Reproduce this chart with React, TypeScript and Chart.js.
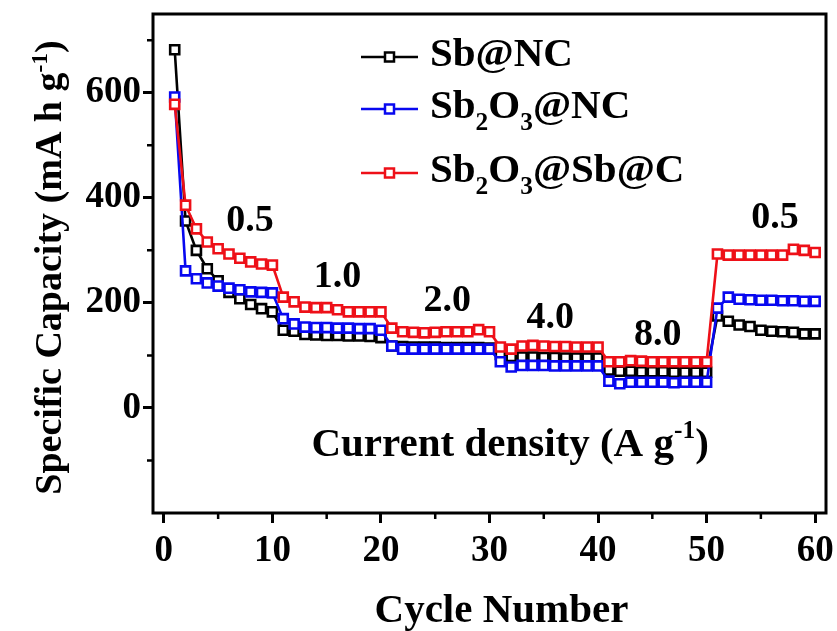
import React, { useEffect, useRef } from 'react';
import { Chart, registerables } from 'chart.js';

Chart.register(...registerables);

const FONT = '"Liberation Serif", "Times New Roman", Times, serif';

const cycleNumbers = [
  1, 2, 3, 4, 5, 6, 7, 8, 9, 10,
  11, 12, 13, 14, 15, 16, 17, 18, 19, 20,
  21, 22, 23, 24, 25, 26, 27, 28, 29, 30,
  31, 32, 33, 34, 35, 36, 37, 38, 39, 40,
  41, 42, 43, 44, 45, 46, 47, 48, 49, 50,
  51, 52, 53, 54, 55, 56, 57, 58, 59, 60,
];

const sbNC = [
  682, 356, 300, 265, 242, 220, 208, 197, 189, 183,
  148, 146, 140, 139, 138, 138, 137, 137, 136, 134,
  118, 117, 116, 116, 116, 115, 115, 115, 115, 114,
  102, 98, 97, 97, 96, 96, 95, 95, 95, 95,
  72, 70, 70, 69, 69, 69, 68, 68, 68, 68,
  175, 165, 158, 155, 148, 146, 145, 144, 141, 141,
];

const sb2o3NC = [
  592, 261, 246, 238, 232, 228, 225, 221, 220, 219,
  170, 160, 154, 153, 153, 152, 152, 151, 151, 148,
  118, 112, 112, 112, 112, 112, 112, 112, 112, 112,
  88, 78, 81, 81, 81, 80, 80, 80, 80, 80,
  51, 46, 49, 49, 49, 49, 48, 49, 49, 49,
  190, 211, 207, 206, 205, 205, 204, 204, 203, 203,
];

const sb2o3SbC = [
  578, 386, 341, 316, 303, 293, 285, 278, 274, 272,
  211, 202, 192, 191, 191, 187, 183, 183, 183, 183,
  152, 145, 144, 143, 144, 145, 145, 145, 149, 145,
  116, 112, 118, 119, 118, 117, 117, 116, 116, 116,
  88, 88, 90, 89, 88, 88, 88, 88, 88, 88,
  293, 291, 291, 291, 291, 291, 291, 302, 300, 296,
];

const seriesNames = ['Sb@NC', 'Sb_{2}O_{3}@NC', 'Sb_{2}O_{3}@Sb@C'];
const seriesColors = ['#000000', '#0808f0', '#ee1018'];

const xMajorTicks = [0, 10, 20, 30, 40, 50, 60];
const yMajorTicks = [0, 200, 400, 600];

const rateLabels = ['0.5', '1.0', '2.0', '4.0', '8.0', '0.5'];
const rateLabelX = [7.93, 16.0, 26.1, 35.6, 45.5, 56.3];
const rateLabelY = [356, 249, 204, 171, 139, 362];

const densityLabel = 'Current density (A g^{-1})';
const densityX = 31.9;
const densityY = -72;

const xTitle = 'Cycle Number';
const yTitle = 'Specific Capacity (mA h g^{-1})';

type Part = { t: string; mode: number };

function parseRich(s: string): Part[] {
  const parts: Part[] = [];
  const re = /([_^])\{([^}]*)\}/g;
  let last = 0;
  let m: RegExpExecArray | null;
  while ((m = re.exec(s))) {
    if (m.index > last) parts.push({ t: s.slice(last, m.index), mode: 0 });
    parts.push({ t: m[2], mode: m[1] === '_' ? 1 : 2 });
    last = re.lastIndex;
  }
  if (last < s.length) parts.push({ t: s.slice(last), mode: 0 });
  return parts;
}

function drawRich(
  ctx: CanvasRenderingContext2D,
  s: string,
  x: number,
  y: number,
  size: number,
  align: 'left' | 'center',
  baseline: CanvasTextBaseline = 'alphabetic'
) {
  const parts = parseRich(s);
  const small = size * 0.62;
  const fontFor = (mode: number) => `bold ${mode ? small : size}px ${FONT}`;
  ctx.save();
  ctx.textBaseline = baseline;
  ctx.textAlign = 'left';
  let total = 0;
  const widths = parts.map((p) => {
    ctx.font = fontFor(p.mode);
    const w = ctx.measureText(p.t).width;
    total += w;
    return w;
  });
  let cx = align === 'center' ? x - total / 2 : x;
  parts.forEach((p, i) => {
    ctx.font = fontFor(p.mode);
    let dy = 0;
    if (p.mode === 1) dy = size * 0.3;
    if (p.mode === 2) dy = -size * 0.36;
    ctx.fillText(p.t, cx, y + dy);
    cx += widths[i];
  });
  ctx.restore();
}

const decorPlugin = {
  id: 'decor',
  afterDraw(chart: any) {
    const ctx: CanvasRenderingContext2D = chart.ctx;
    const { left, right, top, bottom } = chart.chartArea;
    const xs = chart.scales.x;
    const ys = chart.scales.y;
    ctx.save();
    // frame
    ctx.strokeStyle = '#000';
    ctx.lineWidth = 3;
    ctx.strokeRect(left, top, right - left, bottom - top);
    // minor ticks
    ctx.lineWidth = 2.5;
    ctx.beginPath();
    xs.ticks.forEach((t: any) => {
      if (!xMajorTicks.includes(t.value)) {
        const px = xs.getPixelForValue(t.value);
        ctx.moveTo(px, bottom);
        ctx.lineTo(px, bottom + 6);
      }
    });
    ys.ticks.forEach((t: any) => {
      if (t.value % 200 !== 0) {
        const py = ys.getPixelForValue(t.value);
        ctx.moveTo(left, py);
        ctx.lineTo(left - 6, py);
      }
    });
    ctx.stroke();

    ctx.fillStyle = '#000';
    // rate annotations
    rateLabels.forEach((lab, i) => {
      drawRich(ctx, lab, xs.getPixelForValue(rateLabelX[i]), ys.getPixelForValue(rateLabelY[i]), 38, 'center', 'middle');
    });
    drawRich(ctx, densityLabel, xs.getPixelForValue(densityX), ys.getPixelForValue(densityY), 41, 'center', 'middle');

    // axis titles
    drawRich(ctx, xTitle, (left + right) / 2 + 12, 622, 41, 'center');
    ctx.save();
    ctx.translate(61, (top + bottom) / 2 + 4);
    ctx.rotate(-Math.PI / 2);
    drawRich(ctx, yTitle, 0, 0, 38, 'center');
    ctx.restore();

    // legend
    const rows = [57, 109, 173];
    seriesNames.forEach((name, i) => {
      const ry = rows[i];
      ctx.strokeStyle = seriesColors[i];
      ctx.lineWidth = 2.5;
      ctx.beginPath();
      ctx.moveTo(361, ry);
      ctx.lineTo(418, ry);
      ctx.stroke();
      ctx.fillStyle = '#fff';
      ctx.fillRect(385, ry - 4.5, 9, 9);
      ctx.strokeRect(385, ry - 4.5, 9, 9);
      ctx.fillStyle = '#000';
      drawRich(ctx, name, 430, ry + 9, 41, 'left');
    });
    ctx.restore();
  },
};

export default function App() {
  const ref = useRef<HTMLCanvasElement>(null);

  useEffect(() => {
    if (!ref.current) return;
    const mk = (idx: number, data: number[], order: number) => ({
      label: seriesNames[idx].replace(/[_^]\{([^}]*)\}/g, '$1'),
      data: cycleNumbers.map((c, i) => ({ x: c, y: data[i] })),
      borderColor: seriesColors[idx],
      backgroundColor: '#ffffff',
      pointBackgroundColor: '#ffffff',
      pointBorderColor: seriesColors[idx],
      pointStyle: 'rect' as const,
      pointRadius: 6.4,
      pointBorderWidth: 2.6,
      borderWidth: 2.6,
      tension: 0,
      order,
    });
    const chart = new Chart(ref.current, {
      type: 'line',
      data: {
        datasets: [mk(0, sbNC, 3), mk(1, sb2o3NC, 2), mk(2, sb2o3SbC, 1)],
      },
      options: {
        responsive: false,
        animation: false,
        devicePixelRatio: 1,
        layout: { padding: { left: 0, right: 11, top: 14, bottom: 0 } },
        plugins: { legend: { display: false }, tooltip: { enabled: false } },
        scales: {
          x: {
            type: 'linear',
            min: -1,
            max: 61,
            border: { display: false },
            grid: {
              drawOnChartArea: false,
              drawTicks: true,
              tickLength: 10,
              tickWidth: 3,
              tickColor: (c: any) => (xMajorTicks.includes(c.tick?.value) ? '#000' : 'rgba(0,0,0,0)'),
            },
            ticks: {
              stepSize: 5,
              includeBounds: false,
              autoSkip: false,
              maxRotation: 0,
              padding: 6,
              color: '#000',
              font: { family: FONT, size: 37, weight: 'bold' },
              callback: (v: any) => (xMajorTicks.includes(Number(v)) ? String(v) : ''),
            },
            afterFit: (s: any) => {
              s.height = 118;
              s.paddingLeft = 0;
              s.paddingRight = 0;
            },
          },
          y: {
            type: 'linear',
            min: -200,
            max: 750,
            border: { display: false },
            grid: {
              drawOnChartArea: false,
              drawTicks: true,
              tickLength: 10,
              tickWidth: 3,
              tickColor: (c: any) => (yMajorTicks.includes(c.tick?.value) ? '#000' : 'rgba(0,0,0,0)'),
            },
            ticks: {
              stepSize: 100,
              includeBounds: false,
              autoSkip: false,
              padding: 2,
              color: '#000',
              font: { family: FONT, size: 37, weight: 'bold' },
              callback: (v: any) => (yMajorTicks.includes(Number(v)) ? String(v) : ''),
            },
            afterFit: (s: any) => {
              s.width = 153;
              s.paddingTop = 0;
              s.paddingBottom = 0;
            },
          },
        },
      },
      plugins: [decorPlugin],
    });
    return () => chart.destroy();
  }, []);

  return (
    <div style={{ position: 'fixed', left: 0, top: 0, width: 837, height: 631, background: '#fff' }}>
      <canvas ref={ref} width={837} height={631} style={{ display: 'block', width: 837, height: 631 }} />
    </div>
  );
}
